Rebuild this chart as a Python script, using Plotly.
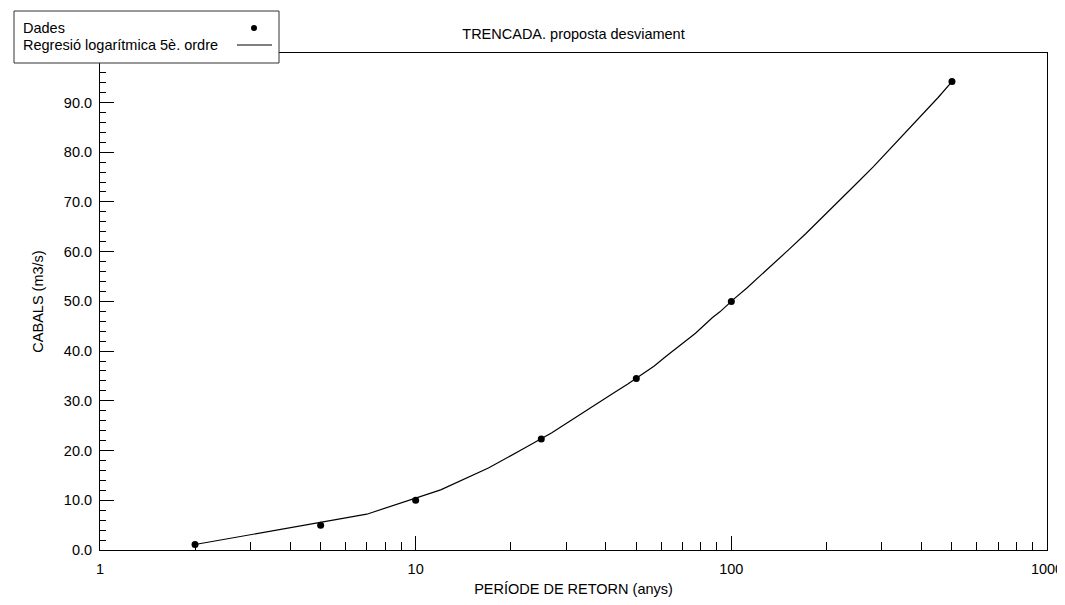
import plotly.graph_objects as go

# Data
periode = [2, 5, 10, 25, 50, 100, 500]
cabal = [1.1, 5.0, 10.0, 22.3, 34.5, 50.0, 94.2]

reg_periode = [2, 7, 12, 17, 22, 27, 32, 37, 42, 47, 52, 57, 62, 67, 72, 77,
               82, 87, 92, 97, 102, 112, 122, 132, 152, 172, 202, 232, 252,
               282, 302, 352, 402, 452, 500]
reg_cabal = [1.1, 7.2, 12.1, 16.5, 20.4, 23.6, 26.6, 29.1, 31.4, 33.4, 35.2,
             37.0, 38.9, 40.6, 42.2, 43.6, 45.2, 46.7, 47.9, 49.3, 50.5, 52.7,
             54.8, 56.8, 60.4, 63.6, 67.9, 71.7, 74.0, 77.1, 79.1, 83.5, 87.5,
             91.0, 94.2]

x_ticks = [1, 10, 100, 1000]
x_minor = [m * d for d in (1, 10, 100) for m in range(2, 10)]
y_step = 10
y_minor_step = 2
y_range = [0, 99.95]

title_text = "TRENCADA. proposta desviament"
x_title = "PERÍODE DE RETORN (anys)"
y_title = "CABALS (m3/s)"
legend_names = ["Dades", "Regresió logarítmica 5è. ordre"]

FONT = "Arial, Liberation Sans, sans-serif"
FS = 14.5
OFF = 8  # page body margin
W, H = 1065 - OFF, 605 - 2 * OFF
# plot area in window pixels: x 100..1047, y 53..550
L, T = 100 - OFF, 53 - OFF
R = W - (1047 - OFF)
B = H - (550 - OFF)
PW, PH = W - L - R, H - T - B


def px_x(px):
    return (px - OFF - L) / PW


def px_y(py):
    return (H - B - (py - OFF)) / PH


fig = go.Figure()
fig.add_trace(go.Scatter(x=reg_periode, y=reg_cabal, mode="lines",
                         line=dict(color="black", width=1.2),
                         name=legend_names[1], showlegend=False))
fig.add_trace(go.Scatter(x=periode, y=cabal, mode="markers",
                         marker=dict(color="black", size=7),
                         name=legend_names[0], showlegend=False))

# custom legend (symbols on the right, as in the reference)
shapes = [
    dict(type="rect", xref="paper", yref="paper",
         x0=px_x(14), x1=px_x(279), y0=px_y(63), y1=px_y(11),
         line=dict(color="#333", width=1), fillcolor="white", layer="above"),
    dict(type="circle", xref="paper", yref="paper",
         x0=px_x(251), x1=px_x(257), y0=px_y(31), y1=px_y(25),
         line=dict(color="black", width=0), fillcolor="black", layer="above"),
    dict(type="line", xref="paper", yref="paper",
         x0=px_x(237), x1=px_x(272), y0=px_y(45), y1=px_y(45),
         line=dict(color="black", width=1), layer="above"),
]
annotations = [
    dict(text=legend_names[0], xref="paper", yref="paper", x=px_x(21),
         y=px_y(28), xanchor="left", yanchor="middle", showarrow=False,
         font=dict(family=FONT, size=FS, color="black")),
    dict(text=legend_names[1], xref="paper", yref="paper", x=px_x(21),
         y=px_y(45), xanchor="left", yanchor="middle", showarrow=False,
         font=dict(family=FONT, size=FS, color="black")),
]

fig.update_layout(
    template="none",
    width=W, height=H,
    margin=dict(l=L, r=R, t=T, b=B, autoexpand=False),
    paper_bgcolor="white", plot_bgcolor="white",
    font=dict(family=FONT, size=FS, color="black"),
    title=dict(text=title_text, x=(L + PW / 2) / W, xref="container",
               y=1 - (34 - OFF) / H, yref="container", xanchor="center",
               yanchor="middle", font=dict(family=FONT, size=FS, color="black")),
    shapes=shapes, annotations=annotations,
    showlegend=False,
)

fig.update_xaxes(
    type="log", range=[0, 3], automargin=False,
    tickmode="array", tickvals=x_ticks, ticktext=[str(v) for v in x_ticks],
    ticks="inside", ticklen=14, tickwidth=1, tickcolor="black",
    minor=dict(tickmode="array", tickvals=x_minor, ticks="inside",
               ticklen=8, tickwidth=1, tickcolor="black", showgrid=False),
    showline=True, linecolor="black", linewidth=1, mirror=True,
    showgrid=False, zeroline=False, ticklabelstandoff=6,
    ticklabeloverflow="allow",
    title=dict(text=x_title, standoff=8, font=dict(family=FONT, size=FS)),
)
fig.update_layout(yaxis=dict(
    range=y_range, automargin=False,
    tickmode="linear", tick0=0, dtick=y_step, tickformat=".1f",
    ticks="inside", ticklen=14, tickwidth=1, tickcolor="black",
    minor=dict(tickmode="linear", tick0=0, dtick=y_minor_step, ticks="inside",
               ticklen=6, tickwidth=1.2, tickcolor="black", showgrid=False),
    showline=True, linecolor="black", linewidth=1, mirror=True,
    showgrid=False, zeroline=False, ticklabelstandoff=4,
    title=dict(text=y_title, standoff=16, font=dict(family=FONT, size=FS)),
))

fig.write_html("out.html")
